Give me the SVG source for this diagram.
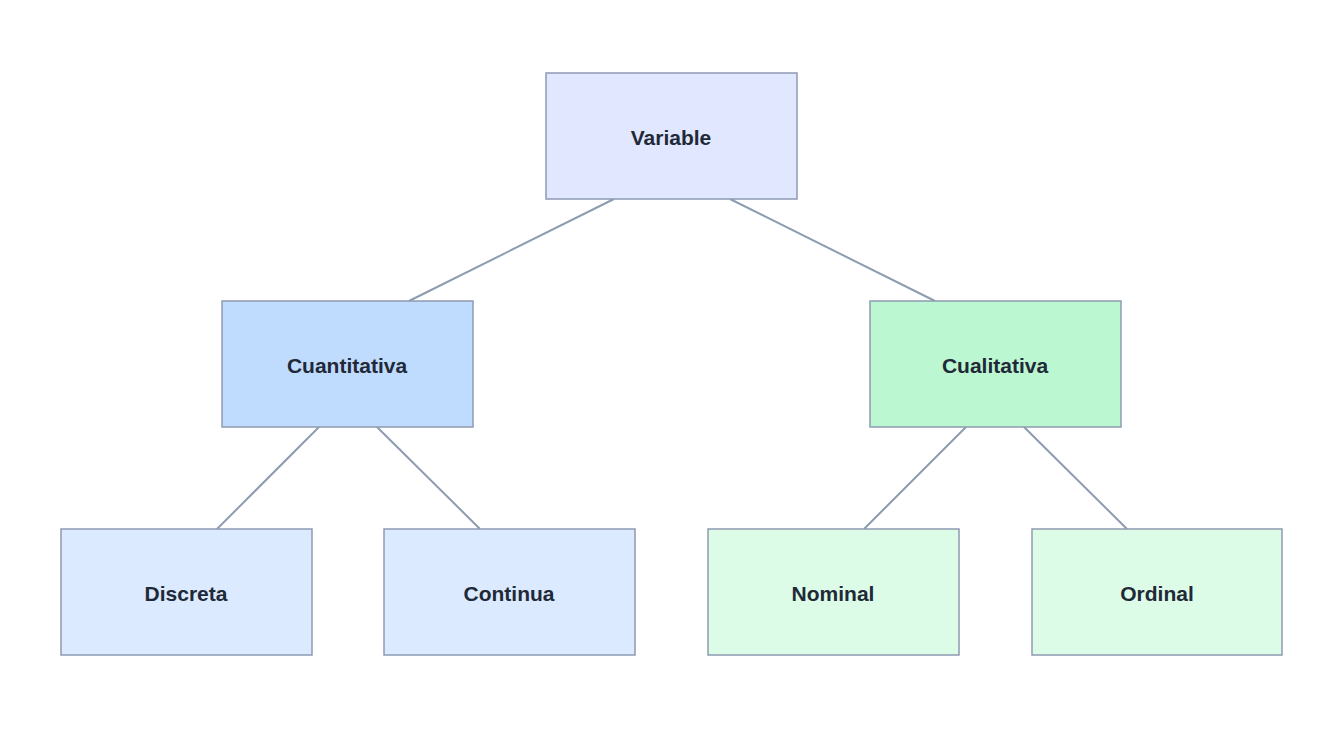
<svg xmlns="http://www.w3.org/2000/svg" width="1344" height="729" viewBox="0 0 1344 729">
<style>
.n rect{stroke:#8e9bb0;stroke-width:1.5}
.n text{font-family:"Liberation Sans",Arial,sans-serif;font-weight:bold;font-size:21px;fill:#1f2937;text-anchor:middle;dominant-baseline:central}
#edges line{stroke:#8e9bb0;stroke-width:2}
</style>
<rect width="1344" height="729" fill="#fff"/>
<g id="edges">
<line x1="614" y1="199" x2="409" y2="301"/>
<line x1="730" y1="199" x2="935" y2="301"/>
<line x1="319" y1="427" x2="217" y2="529"/>
<line x1="377" y1="427" x2="480" y2="529"/>
<line x1="966" y1="427" x2="864" y2="529"/>
<line x1="1024" y1="427" x2="1127" y2="529"/>
</g>
<g id="variable" class="n"><rect x="546" y="73" width="251" height="126" fill="#e0e7ff"/><text x="671" y="137">Variable</text></g>
<g id="cuantitativa" class="n"><rect x="222" y="301" width="251" height="126" fill="#bfdbfe"/><text x="347" y="365">Cuantitativa</text></g>
<g id="cualitativa" class="n"><rect x="870" y="301" width="251" height="126" fill="#bbf7d0"/><text x="995" y="365">Cualitativa</text></g>
<g id="discreta" class="n"><rect x="61" y="529" width="251" height="126" fill="#dbeafe"/><text x="186" y="593">Discreta</text></g>
<g id="continua" class="n"><rect x="384" y="529" width="251" height="126" fill="#dbeafe"/><text x="509" y="593">Continua</text></g>
<g id="nominal" class="n"><rect x="708" y="529" width="251" height="126" fill="#dcfce7"/><text x="833" y="593">Nominal</text></g>
<g id="ordinal" class="n"><rect x="1032" y="529" width="250" height="126" fill="#dcfce7"/><text x="1157" y="593">Ordinal</text></g>
</svg>
